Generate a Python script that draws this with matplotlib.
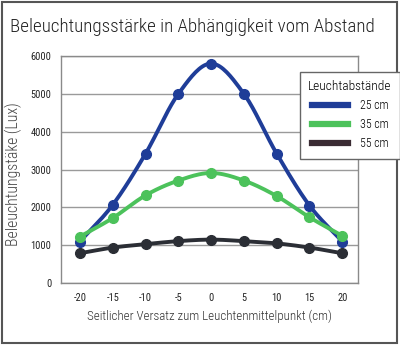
import numpy as np
import matplotlib
matplotlib.use("Agg")
import matplotlib.pyplot as plt
from matplotlib.patches import Rectangle
from matplotlib.lines import Line2D

plt.rcParams['font.family'] = ['Roboto Condensed', 'Roboto', 'DejaVu Sans']

offsets = [-20, -15, -10, -5, 0, 5, 10, 15, 20]
lux_25 = [1100, 2070, 3420, 5000, 5800, 5000, 3420, 2050, 1100]
lux_35 = [1230, 1720, 2320, 2710, 2910, 2710, 2300, 1740, 1250]
lux_55 = [790, 940, 1030, 1110, 1150, 1110, 1050, 940, 790]
labels = ['25 cm', '35 cm', '55 cm']
colors = ['#1f3d98', '#4cc25b', '#2b2e35']
legend_colors = ['#1f3d98', '#4cc25b', '#3a2b33']


def smooth(x, y, n=20):
    """catmull-rom curve through the points (for the line only)"""
    x = np.asarray(x, float)
    y = np.asarray(y, float)
    px = np.concatenate([[2*x[0]-x[1]], x, [2*x[-1]-x[-2]]])
    py = np.concatenate([[2*y[0]-y[1]], y, [2*y[-1]-y[-2]]])
    xs, ys = [], []
    t = np.linspace(0, 1, n)
    for i in range(1, len(px)-2):
        for p, out in ((px, xs), (py, ys)):
            p0, p1, p2, p3 = p[i-1], p[i], p[i+1], p[i+2]
            out.extend(0.5*((2*p1) + (-p0+p2)*t + (2*p0-5*p1+4*p2-p3)*t**2
                            + (-p0+3*p1-3*p2+p3)*t**3))
    return xs, ys


fig = plt.figure(figsize=(4, 3.5), dpi=100)
ax = fig.add_axes([0.1525, 0.191, 0.7425, 0.649])

for y, c in zip([lux_25, lux_35, lux_55], colors):
    sx, sy = smooth(offsets, y)
    ax.plot(sx, sy, color=c, lw=2.8, solid_capstyle='round', zorder=3)
    ax.plot(offsets, y, 'o', color=c, ms=7, zorder=4)

ax.set_xlim(-22.9, 22.4)
ax.set_ylim(0, 6000)
ax.set_xticks(offsets)
ax.set_xticklabels([str(v) for v in offsets])
ax.set_yticks(range(0, 6001, 1000))
ax.tick_params(length=0, labelsize=7.5, colors='#222222', pad=7)
ax.grid(axis='y', color='#9a9a9a', lw=1)
ax.set_axisbelow(True)
for s in ax.spines.values():
    s.set_color('#8a8a8a')
    s.set_linewidth(1)

ax.set_xlabel('Seitlicher Versatz zum Leuchtenmittelpunkt (cm)', fontsize=9.4,
              color='#333333', labelpad=5, fontweight='light')
ax.set_ylabel('Beleuchtungstäke (Lux)', fontsize=11.3, color='#444444',
              fontweight='light')
ax.yaxis.set_label_coords(-0.13, 0.48)
fig.text(0.482, 0.922, 'Beleuchtungsstärke in Abhängigkeit vom Abstand',
         ha='center', va='center', fontsize=13.7, color='#222222', fontweight='light')

handles = [Line2D([0], [0], color=c, lw=4.5) for c in legend_colors]
leg = fig.legend(handles, labels, title='Leuchtabstände', loc='upper left',
                 bbox_to_anchor=(0.75, 0.794), fontsize=8.6,
                 title_fontproperties={'size': 9.6, 'weight': 'light'},
                 frameon=True, fancybox=False, handlelength=3.0,
                 borderpad=0.7, labelspacing=0.5, handletextpad=1.0,
                 borderaxespad=0)
for t in leg.get_texts():
    t.set_fontweight('light')
leg.get_frame().set_edgecolor('#666666')
leg.get_frame().set_linewidth(1)
leg.get_frame().set_alpha(1)

fig.patches.append(Rectangle((0.006, 0.02), 0.987, 0.973, transform=fig.transFigure,
                             fill=False, edgecolor='#555555', lw=1.5))

fig.savefig('out.png', dpi=100)
